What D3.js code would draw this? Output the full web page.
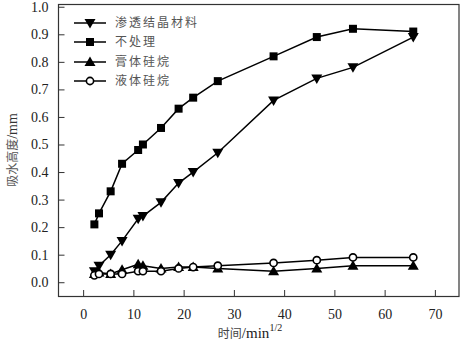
<!DOCTYPE html>
<html>
<head>
<meta charset="utf-8">
<script src="https://cdn.jsdelivr.net/npm/d3@7"></script>
<style>
  html, body { margin: 0; padding: 0; background: #fff; }
  svg { display: block; }
</style>
</head>
<body>
<svg id="chart" width="460" height="346"></svg>
<script>
// Square-root time (min^1/2) at each measurement
const timeSqrt = [2.24, 3.16, 5.48, 7.75, 10.95, 11.9, 15.5, 19.0, 21.9, 26.8, 37.9, 46.5, 53.7, 65.7];

// Water absorption height (mm) for each treatment
const crystalline = [0.04, 0.06, 0.10, 0.15, 0.23, 0.24, 0.29, 0.36, 0.40, 0.47, 0.66, 0.74, 0.78, 0.89];
const untreated   = [0.21, 0.25, 0.33, 0.43, 0.48, 0.50, 0.56, 0.63, 0.67, 0.73, 0.82, 0.89, 0.92, 0.91];
const pasteSilane = [0.03, 0.035, 0.03, 0.045, 0.065, 0.06, 0.05, 0.055, 0.055, 0.05, 0.04, 0.05, 0.06, 0.06];
const liquidSilane = [0.025, 0.03, 0.03, 0.03, 0.04, 0.04, 0.04, 0.05, 0.055, 0.06, 0.07, 0.08, 0.09, 0.09];

const seriesNames = ["渗透结晶材料", "不处理", "膏体硅烷", "液体硅烷"];
const seriesValues = [crystalline, untreated, pasteSilane, liquidSilane];
const markerKinds = ["triDown", "square", "triUp", "circle"];

const xTicks = [0, 10, 20, 30, 40, 50, 60, 70];
const yTicks = [0.0, 0.1, 0.2, 0.3, 0.4, 0.5, 0.6, 0.7, 0.8, 0.9, 1.0];

const svg = d3.select("#chart");
const plot = { left: 58, right: 460, top: 4, bottom: 296 };

const x = d3.scaleLinear().domain([-5, 75]).range([plot.left, plot.right]);
const y = d3.scaleLinear().domain([-0.05, 1.01]).range([plot.bottom, plot.top]);

const serif = "'Liberation Serif', 'Times New Roman', serif";
const cjk = "'Noto Sans CJK SC', sans-serif";

// Frame
svg.append("rect")
  .attr("x", plot.left + 0.5).attr("y", plot.top + 0.5)
  .attr("width", plot.right - plot.left - 1.5).attr("height", plot.bottom - plot.top)
  .attr("fill", "none").attr("stroke", "#333").attr("stroke-width", 1.2);

// Bottom axis: inward ticks, minor every 5
const xAxis = svg.append("g").attr("transform", `translate(0,${plot.bottom})`);
xAxis.call(d3.axisBottom(x).tickValues(d3.range(-5, 76, 5).filter(v => v > -5 && v < 75)).tickSize(-3).tickFormat(""));
xAxis.call(d3.axisBottom(x).tickValues(xTicks).tickSize(-6).tickPadding(10).tickFormat(d3.format("d")));
xAxis.selectAll(".domain").remove();
xAxis.selectAll("line").attr("stroke", "#333");
xAxis.selectAll("text")
  .attr("font-family", serif).attr("font-size", 14).attr("fill", "#222")
  .attr("dy", "0.9em");

// Left axis: inward ticks, minor every 0.05
const yAxis = svg.append("g").attr("transform", `translate(${plot.left + 0.5},0)`);
yAxis.call(d3.axisLeft(y).tickValues(d3.range(0.05, 1.0, 0.1)).tickSize(-3).tickFormat(""));
yAxis.call(d3.axisLeft(y).tickValues(yTicks).tickSize(-6).tickPadding(10).tickFormat(d3.format(".1f")));
yAxis.selectAll(".domain").remove();
yAxis.selectAll("line").attr("stroke", "#333");
yAxis.selectAll("text")
  .attr("font-family", serif).attr("font-size", 14).attr("fill", "#222");

// Axis titles
const xTitle = svg.append("text")
  .attr("x", 250).attr("y", 338)
  .attr("text-anchor", "middle")
  .attr("fill", "#444");
xTitle.append("tspan").attr("font-family", cjk).attr("font-size", 12).text("时间");
xTitle.append("tspan").attr("font-family", serif).attr("font-size", 15).attr("fill", "#222").text("/min");
xTitle.append("tspan").attr("font-family", serif).attr("font-size", 10).attr("fill", "#222")
  .attr("dy", -7).text("1/2");

const yTitle = svg.append("text")
  .attr("transform", "translate(17,150) rotate(-90)")
  .attr("text-anchor", "middle");
yTitle.append("tspan").attr("font-family", cjk).attr("font-size", 12).attr("fill", "#555").text("吸水高度");
yTitle.append("tspan").attr("font-family", serif).attr("font-size", 14).attr("fill", "#333").text("/mm");

// Marker drawing
function drawMarker(g, kind, cx, cy) {
  if (kind === "square") {
    g.append("rect").attr("x", cx - 4).attr("y", cy - 4).attr("width", 8).attr("height", 8).attr("fill", "#000");
  } else if (kind === "triDown") {
    g.append("path").attr("d", `M${cx - 5.5},${cy - 4} L${cx + 5.5},${cy - 4} L${cx},${cy + 5.5} Z`).attr("fill", "#000");
  } else if (kind === "triUp") {
    g.append("path").attr("d", `M${cx - 5.5},${cy + 4} L${cx + 5.5},${cy + 4} L${cx},${cy - 5.5} Z`).attr("fill", "#000");
  } else {
    g.append("circle").attr("cx", cx).attr("cy", cy).attr("r", 3.6)
      .attr("fill", "#fff").attr("stroke", "#000").attr("stroke-width", 1.6);
  }
}

const line = d3.line().x(d => x(d[0])).y(d => y(d[1]));

// Series lines and markers
seriesValues.forEach((vals, i) => {
  const pts = timeSqrt.map((t, j) => [t, vals[j]]);
  const g = svg.append("g");
  g.append("path").attr("d", line(pts))
    .attr("fill", "none").attr("stroke", "#000").attr("stroke-width", 1.5);
  pts.forEach(p => drawMarker(g, markerKinds[i], x(p[0]), y(p[1])));
});

// Legend
const legendRows = [23, 42, 62, 81];
seriesNames.forEach((name, i) => {
  const g = svg.append("g");
  const ly = legendRows[i];
  g.append("line").attr("x1", 74).attr("x2", 106).attr("y1", ly).attr("y2", ly)
    .attr("stroke", "#000").attr("stroke-width", 1.5);
  drawMarker(g, markerKinds[i], 90, ly);
  g.append("text").attr("x", 115).attr("y", ly).attr("dy", "0.36em")
    .attr("font-family", cjk).attr("font-size", 12).attr("fill", "#555")
    .attr("letter-spacing", 2).text(name);
});
</script>
</body>
</html>
